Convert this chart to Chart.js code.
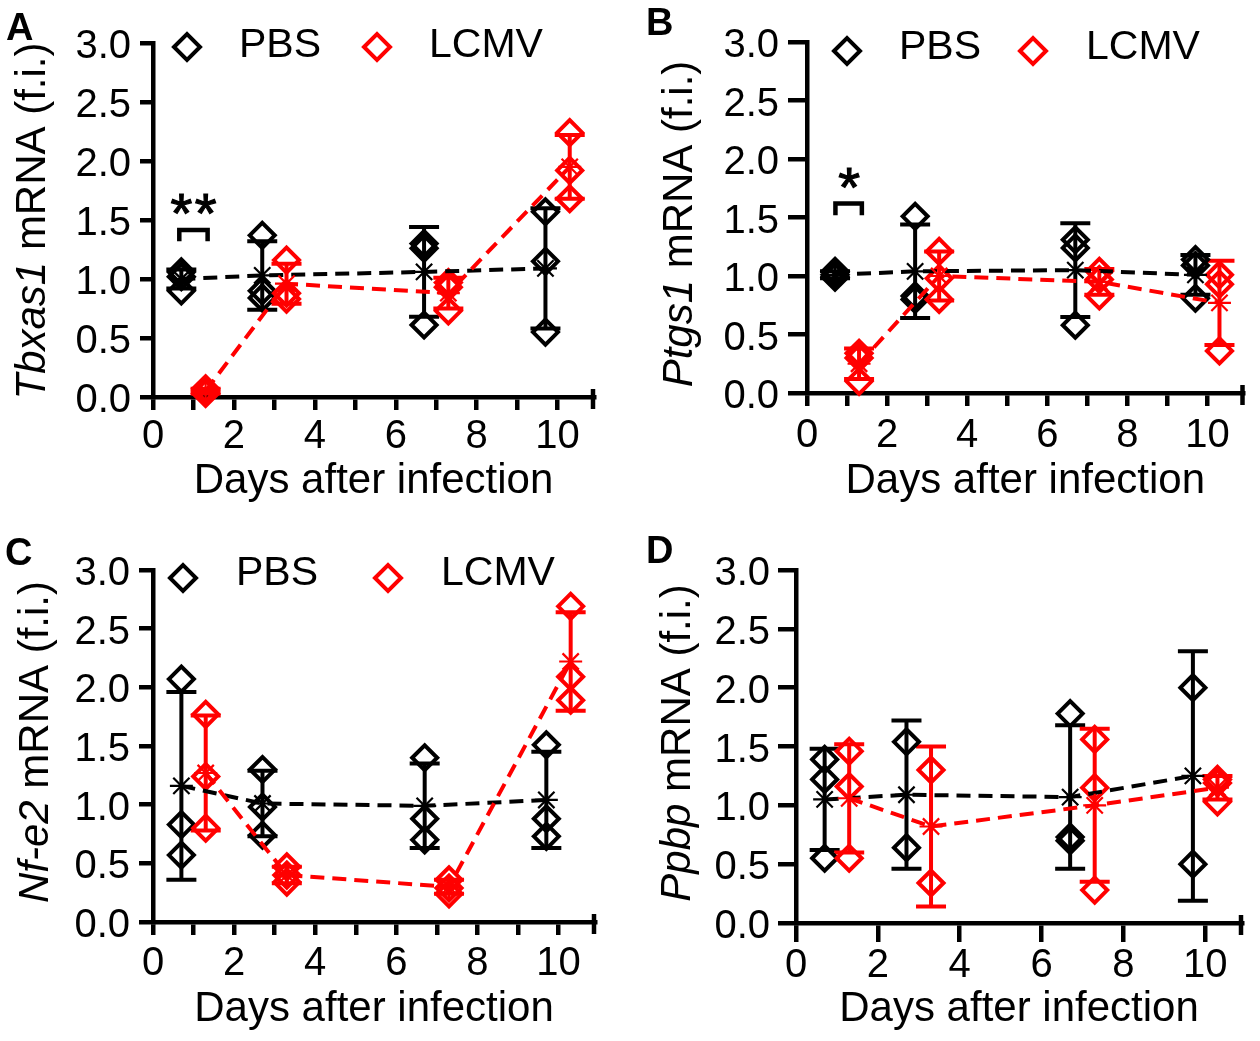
<!DOCTYPE html>
<html><head><meta charset="utf-8">
<script src="https://cdn.jsdelivr.net/npm/chart.js@4.4.1/dist/chart.umd.min.js"></script>
<style>
html,body{margin:0;padding:0;background:#fff;}
#fig{position:relative;width:1260px;height:1041px;overflow:hidden;background:#fff;}
.panel{position:absolute;}
canvas{display:block;}
</style></head><body><div id="fig">
<div class="panel" style="left:0;top:0;width:630px;height:520px"><canvas id="cA" width="630" height="520"></canvas></div>
<div class="panel" style="left:630px;top:0;width:630px;height:520px"><canvas id="cB" width="630" height="520"></canvas></div>
<div class="panel" style="left:0;top:520px;width:630px;height:521px"><canvas id="cC" width="630" height="521"></canvas></div>
<div class="panel" style="left:630px;top:520px;width:630px;height:521px"><canvas id="cD" width="630" height="521"></canvas></div>
</div>
<script>
// ---------------- DATA ----------------
const days = [1, 3, 7, 10];
const groupLabels = ['PBS', 'LCMV'];
const xTicksAll = [0, 1, 2, 3, 4, 5, 6, 7, 8, 9, 10];
const xTicksEven = [0, 2, 4, 6, 8, 10];
const yTicks = [0, 0.5, 1.0, 1.5, 2.0, 2.5, 3.0];
const xAxisTitle = 'Days after infection';
const yAxisUnit = ' mRNA (f.i.)';

// Panel A - Tbxas1
const tbxas1PbsPoints  = [[1.06, 1.02, 0.90], [1.37, 0.90, 0.84], [1.30, 1.26, 0.61], [1.57, 1.15, 0.55]];
const tbxas1PbsMean    = [1.00, 1.03, 1.06, 1.09];
const tbxas1PbsSD      = [0.08, 0.29, 0.38, 0.51];
const tbxas1LcmvPoints = [[0.07, 0.05, 0.03], [1.16, 0.88, 0.83], [0.97, 0.93, 0.73], [2.24, 1.92, 1.68]];
const tbxas1LcmvMean   = [0.05, 0.96, 0.88, 1.95];
const tbxas1LcmvSD     = [0.02, 0.17, 0.13, 0.27];

// Panel B - Ptgs1
const ptgs1PbsPoints  = [[1.04, 1.01, 0.99], [1.51, 0.83, 0.80], [1.31, 1.24, 0.58], [1.14, 1.09, 0.81]];
const ptgs1PbsMean    = [1.01, 1.04, 1.05, 1.01];
const ptgs1PbsSD      = [0.03, 0.40, 0.40, 0.17];
const ptgs1LcmvPoints = [[0.34, 0.30, 0.10], [1.21, 0.98, 0.80], [1.04, 0.97, 0.83], [1.01, 0.93, 0.36]];
const ptgs1LcmvMean   = [0.25, 1.00, 0.95, 0.77];
const ptgs1LcmvSD     = [0.13, 0.21, 0.11, 0.36];

// Panel C - Nf-e2
const nfe2PbsPoints  = [[2.07, 0.83, 0.57], [1.30, 0.98, 0.74], [1.40, 0.88, 0.70], [1.51, 0.88, 0.73]];
const nfe2PbsMean    = [1.16, 1.01, 0.99, 1.04];
const nfe2PbsSD      = [0.80, 0.28, 0.36, 0.41];
const nfe2LcmvPoints = [[1.77, 1.24, 0.80], [0.47, 0.40, 0.34], [0.36, 0.29, 0.24], [2.69, 2.09, 1.89]];
const nfe2LcmvMean   = [1.27, 0.40, 0.30, 2.22];
const nfe2LcmvSD     = [0.49, 0.07, 0.06, 0.42];

// Panel D - Ppbp
const ppbpPbsPoints  = [[1.39, 1.22, 0.55], [1.54, 0.64], [1.78, 0.73, 0.70], [2.00, 0.50]];
const ppbpPbsMean    = [1.05, 1.09, 1.07, 1.25];
const ppbpPbsSD      = [0.43, 0.63, 0.61, 1.06];
const ppbpLcmvPoints = [[1.46, 1.16, 0.55], [1.30, 0.34], [1.56, 1.15, 0.28], [1.22, 1.19, 1.03]];
const ppbpLcmvMean   = [1.06, 0.82, 1.00, 1.15];
const ppbpLcmvSD     = [0.46, 0.68, 0.65, 0.10];

// ---------------- STYLE / LAYOUT ----------------
const FONT = '"Liberation Sans", Arial, Helvetica, sans-serif';
const BLACK = '#000000', RED = '#ff0000';
const PBS_OFFSET = -0.3, LCMV_OFFSET = 0.3;
const X_MAX = 10.9;
const CAP = 15;
const LW = 4;
const AXW = 4.5;

const panels = [
  { id: 'cA', letter: 'A', gene: 'Tbxas1', xTicks: xTicksAll,
    pbsPts: tbxas1PbsPoints, pbsMean: tbxas1PbsMean, pbsSD: tbxas1PbsSD,
    lcmvPts: tbxas1LcmvPoints, lcmvMean: tbxas1LcmvMean, lcmvSD: tbxas1LcmvSD,
    area: { l: 153, r: 594, t: 43, b: 397 }, xTl: 13, yTl: 13, xLabPad: 3, xTitPad: 13, yLabPad: 9,
    letterPos: { x: 6, y: 40 }, yTitle: { x: 45, cy: 221 },
    legend: { dy: 47, ty: 46, items: [{ dx: 187, tx: 239 }, { dx: 377, tx: 429 }] },
    sig: { marks: [0.7, 1.3], textY: 1.66, x1: 0.65, x2: 1.35, y: 1.415, leg: 1.32 } },
  { id: 'cB', letter: 'B', gene: 'Ptgs1', xTicks: xTicksAll,
    pbsPts: ptgs1PbsPoints, pbsMean: ptgs1PbsMean, pbsSD: ptgs1PbsSD,
    lcmvPts: ptgs1LcmvPoints, lcmvMean: ptgs1LcmvMean, lcmvSD: ptgs1LcmvSD,
    area: { l: 177, r: 622, t: 42, b: 393 }, xTl: 13, yTl: 19, xLabPad: 6, xTitPad: 13, yLabPad: 9,
    letterPos: { x: 16, y: 35 }, yTitle: { x: 62, cy: 224 },
    legend: { dy: 51, ty: 47.5, items: [{ dx: 217, tx: 269 }, { dx: 403, tx: 456 }] },
    sig: { marks: [1.05], textY: 1.86, x1: 0.71, x2: 1.37, y: 1.62, leg: 1.52 } },
  { id: 'cC', letter: 'C', gene: 'Nf-e2', xTicks: xTicksAll,
    pbsPts: nfe2PbsPoints, pbsMean: nfe2PbsMean, pbsSD: nfe2PbsSD,
    lcmvPts: nfe2LcmvPoints, lcmvMean: nfe2LcmvMean, lcmvSD: nfe2LcmvSD,
    area: { l: 153, r: 595, t: 50, b: 402 }, xTl: 13, yTl: 14, xLabPad: 5, xTitPad: 6, yLabPad: 9,
    letterPos: { x: 5, y: 45 }, yTitle: { x: 48, cy: 222 },
    legend: { dy: 58, ty: 53.5, items: [{ dx: 183, tx: 236 }, { dx: 388, tx: 441 }] },
    sig: null },
  { id: 'cD', letter: 'D', gene: 'Ppbp', xTicks: xTicksEven,
    pbsPts: ppbpPbsPoints, pbsMean: ppbpPbsMean, pbsSD: ppbpPbsSD,
    lcmvPts: ppbpLcmvPoints, lcmvMean: ppbpLcmvMean, lcmvSD: ppbpLcmvSD,
    area: { l: 166, r: 612, t: 50, b: 403 }, xTl: 19, yTl: 18, xLabPad: 0, xTitPad: 6, yLabPad: 8,
    letterPos: { x: 16, y: 43 }, yTitle: { x: 60, cy: 223 },
    legend: null, sig: null }
];
const panelById = {};
panels.forEach(p => panelById[p.id] = p);

function groupsOf(p) {
  return [
    { label: groupLabels[0], color: BLACK, off: PBS_OFFSET, pts: p.pbsPts, mean: p.pbsMean, sd: p.pbsSD },
    { label: groupLabels[1], color: RED, off: LCMV_OFFSET, pts: p.lcmvPts, mean: p.lcmvMean, sd: p.lcmvSD }
  ];
}

const errorBarPlugin = {
  id: 'errorBars',
  beforeDatasetsDraw(chart) {
    const p = panelById[chart.canvas.id];
    const xs = chart.scales.x, ys = chart.scales.y, ctx = chart.ctx;
    groupsOf(p).forEach(g => {
      ctx.save();
      ctx.strokeStyle = g.color; ctx.lineWidth = LW; ctx.lineCap = 'butt';
      days.forEach((d, i) => {
        const x = xs.getPixelForValue(d + g.off);
        const y1 = ys.getPixelForValue(g.mean[i] + g.sd[i]);
        const y2 = ys.getPixelForValue(g.mean[i] - g.sd[i]);
        ctx.beginPath();
        ctx.moveTo(x, y1); ctx.lineTo(x, y2);
        ctx.moveTo(x - CAP, y1); ctx.lineTo(x + CAP, y1);
        ctx.moveTo(x - CAP, y2); ctx.lineTo(x + CAP, y2);
        ctx.stroke();
      });
      ctx.restore();
    });
  }
};

function drawDiamond(ctx, x, y, r, color) {
  ctx.save();
  ctx.strokeStyle = color; ctx.lineWidth = LW; ctx.lineJoin = 'miter';
  ctx.beginPath();
  ctx.moveTo(x - r, y); ctx.lineTo(x, y - r); ctx.lineTo(x + r, y); ctx.lineTo(x, y + r);
  ctx.closePath(); ctx.stroke();
  ctx.restore();
}

const extrasPlugin = {
  id: 'figExtras',
  afterDraw(chart) {
    const p = panelById[chart.canvas.id];
    const ctx = chart.ctx, ca = chart.chartArea;
    const xs = chart.scales.x, ys = chart.scales.y;
    // x-axis end cap
    ctx.save();
    ctx.strokeStyle = BLACK; ctx.lineWidth = AXW;
    ctx.beginPath(); ctx.moveTo(ca.right - 1, ca.bottom - 8); ctx.lineTo(ca.right - 1, ca.bottom + 12); ctx.stroke();
    ctx.restore();
    // panel letter
    ctx.save();
    ctx.fillStyle = BLACK; ctx.font = 'bold 38px ' + FONT; ctx.textBaseline = 'alphabetic'; ctx.textAlign = 'left';
    ctx.fillText(p.letter, p.letterPos.x, p.letterPos.y);
    ctx.restore();
    // y title with italic gene name
    ctx.save();
    ctx.translate(p.yTitle.x, p.yTitle.cy);
    ctx.rotate(-Math.PI / 2);
    ctx.fillStyle = BLACK; ctx.textBaseline = 'alphabetic'; ctx.textAlign = 'left';
    const fI = 'italic 42px ' + FONT, fN = '42px ' + FONT;
    ctx.font = fI; const w1 = ctx.measureText(p.gene).width;
    ctx.font = fN; const w2 = ctx.measureText(yAxisUnit).width;
    const x0 = -(w1 + w2) / 2;
    ctx.font = fI; ctx.fillText(p.gene, x0, 0);
    ctx.font = fN; ctx.fillText(yAxisUnit, x0 + w1, 0);
    ctx.restore();
    // legend
    if (p.legend) {
      const cols = [BLACK, RED];
      p.legend.items.forEach((it, k) => {
        drawDiamond(ctx, it.dx, p.legend.dy, 13, cols[k]);
        ctx.save();
        ctx.fillStyle = BLACK; ctx.font = '41px ' + FONT; ctx.textBaseline = 'middle'; ctx.textAlign = 'left';
        ctx.fillText(groupLabels[k], it.tx, p.legend.ty);
        ctx.restore();
      });
    }
    // significance bracket
    if (p.sig) {
      const s = p.sig;
      const bx1 = xs.getPixelForValue(s.x1), bx2 = xs.getPixelForValue(s.x2);
      const by = ys.getPixelForValue(s.y), bl = ys.getPixelForValue(s.leg);
      ctx.save();
      ctx.strokeStyle = BLACK; ctx.lineWidth = AXW; ctx.lineJoin = 'miter';
      ctx.beginPath(); ctx.moveTo(bx1, bl); ctx.lineTo(bx1, by); ctx.lineTo(bx2, by); ctx.lineTo(bx2, bl); ctx.stroke();
      ctx.fillStyle = BLACK; ctx.font = '56px ' + FONT; ctx.textAlign = 'center'; ctx.textBaseline = 'alphabetic';
      ctx.lineWidth = 1.2; ctx.strokeStyle = BLACK;
      const ty = ys.getPixelForValue(s.textY);
      s.marks.forEach(mx => {
        const px = xs.getPixelForValue(mx);
        ctx.fillText('*', px, ty + 31);
        ctx.strokeText('*', px, ty + 31);
      });
      ctx.restore();
    }
  }
};

function makeChart(p) {
  const H = document.getElementById(p.id).height;
  const W = document.getElementById(p.id).width;
  const datasets = [];
  groupsOf(p).slice().reverse().forEach(g => {
    datasets.push({
      label: g.label + ' mean',
      data: days.map((d, i) => ({ x: d + g.off, y: g.mean[i] })),
      showLine: true, tension: 0,
      borderColor: g.color, borderWidth: LW, borderDash: [14, 8],
      pointStyle: 'star', pointRadius: 11.5, pointHoverRadius: 11.5,
      pointBorderWidth: 2.2, pointBorderColor: g.color, pointBackgroundColor: g.color,
      clip: false, order: 1
    });
  });
  groupsOf(p).slice().reverse().forEach(g => {
    const data = [];
    days.forEach((d, i) => g.pts[i].forEach(v => data.push({ x: d + g.off, y: v })));
    datasets.push({
      label: g.label, data, showLine: false,
      pointStyle: 'rectRot', pointRadius: 12.5, pointHoverRadius: 12.5,
      pointBorderWidth: LW, borderColor: g.color, pointBorderColor: g.color,
      pointBackgroundColor: 'rgba(0,0,0,0)', backgroundColor: 'rgba(0,0,0,0)',
      clip: false, order: 2
    });
  });
  const tickFont = { family: FONT, size: 40 };
  return new Chart(document.getElementById(p.id), {
    type: 'scatter',
    data: { datasets },
    options: {
      responsive: false, maintainAspectRatio: false, animation: false, devicePixelRatio: 1,
      events: [],
      layout: { padding: { left: 0, top: p.area.t, right: W - p.area.r, bottom: 0 } },
      plugins: { legend: { display: false }, tooltip: { enabled: false }, title: { display: false } },
      scales: {
        x: {
          type: 'linear', min: 0, max: X_MAX,
          afterBuildTicks: s => { s.ticks = p.xTicks.map(v => ({ value: v })); },
          afterFit: s => { s.height = H - p.area.b; },
          ticks: {
            autoSkip: false, maxRotation: 0, minRotation: 0, color: BLACK, font: tickFont,
            padding: p.xLabPad,
            callback: v => (v % 2 === 0 ? String(v) : '')
          },
          grid: { display: true, drawOnChartArea: false, drawTicks: true, tickLength: p.xTl,
                  tickWidth: AXW, tickColor: BLACK, color: BLACK, lineWidth: AXW },
          border: { display: true, color: BLACK, width: AXW },
          title: { display: true, text: xAxisTitle, color: BLACK, font: { family: FONT, size: 42 },
                   padding: { top: 0, bottom: p.xTitPad } }
        },
        y: {
          type: 'linear', min: 0, max: 3,
          afterBuildTicks: s => { s.ticks = yTicks.map(v => ({ value: v })); },
          afterFit: s => { s.width = p.area.l; },
          ticks: { color: BLACK, font: tickFont, padding: p.yLabPad, labelOffset: 4,
                   callback: v => Number(v).toFixed(1) },
          grid: { display: true, drawOnChartArea: false, drawTicks: true, tickLength: p.yTl,
                  tickWidth: AXW, tickColor: BLACK, color: BLACK, lineWidth: AXW },
          border: { display: true, color: BLACK, width: AXW },
          title: { display: false }
        }
      }
    },
    plugins: [errorBarPlugin, extrasPlugin]
  });
}

panels.forEach(makeChart);
</script>
</body></html>
